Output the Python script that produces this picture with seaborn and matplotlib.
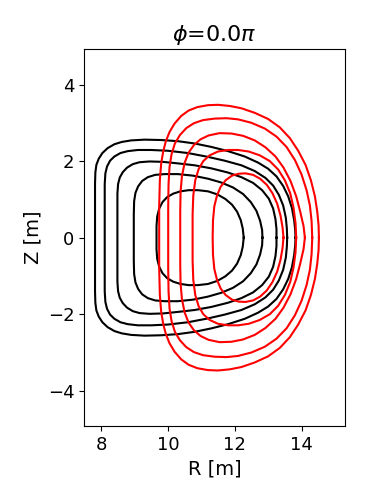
import numpy as np
import pandas as pd
import seaborn as sns
import matplotlib
matplotlib.use("Agg")
import matplotlib.pyplot as plt

# flux surfaces, (R, Z) in metres
# each loop: upper half from outboard midplane over the top, then lower half back

# black surfaces, outer -> inner
B1_R_top = [13.82, 13.81, 13.78, 13.71, 13.60, 13.45, 13.25, 13.00, 12.70, 12.30, 11.80, 11.30, 10.80, 10.30, 9.80, 9.30, 8.90, 8.62, 8.40, 8.20, 8.04, 7.93, 7.86, 7.83, 7.82, 7.82, 7.82]
B1_Z_top = [0.00, 0.20, 0.45, 0.78, 1.08, 1.35, 1.60, 1.80, 1.96, 2.12, 2.26, 2.37, 2.46, 2.52, 2.55, 2.56, 2.54, 2.50, 2.44, 2.34, 2.21, 2.06, 1.90, 1.70, 1.40, 0.80, 0.00]
B1_R_bot = [7.82, 7.82, 7.83, 7.86, 7.93, 8.04, 8.20, 8.40, 8.62, 8.90, 9.30, 9.80, 10.30, 10.80, 11.30, 11.80, 12.30, 12.70, 13.00, 13.25, 13.45, 13.60, 13.71, 13.78, 13.81, 13.82]
B1_Z_bot = [-0.80, -1.40, -1.70, -1.90, -2.06, -2.21, -2.34, -2.44, -2.50, -2.54, -2.56, -2.55, -2.52, -2.46, -2.37, -2.26, -2.12, -1.96, -1.80, -1.60, -1.35, -1.08, -0.78, -0.45, -0.20, 0.00]

B2_R_top = [13.57, 13.56, 13.53, 13.45, 13.32, 13.15, 12.92, 12.60, 12.20, 11.70, 11.20, 10.60, 10.00, 9.50, 9.10, 8.80, 8.58, 8.40, 8.27, 8.18, 8.13, 8.11, 8.11, 8.11]
B2_Z_top = [0.00, 0.24, 0.52, 0.84, 1.12, 1.36, 1.56, 1.74, 1.89, 2.01, 2.11, 2.21, 2.27, 2.29, 2.29, 2.26, 2.21, 2.12, 2.01, 1.86, 1.68, 1.40, 0.80, 0.00]
B2_R_bot = [8.11, 8.11, 8.13, 8.18, 8.27, 8.40, 8.58, 8.80, 9.10, 9.50, 10.00, 10.60, 11.20, 11.70, 12.20, 12.60, 12.92, 13.15, 13.32, 13.45, 13.53, 13.56, 13.57]
B2_Z_bot = [-0.80, -1.40, -1.68, -1.86, -2.01, -2.12, -2.21, -2.26, -2.29, -2.29, -2.27, -2.21, -2.11, -2.01, -1.89, -1.74, -1.56, -1.36, -1.12, -0.84, -0.52, -0.24, 0.00]

B3_R_top = [13.25, 13.25, 13.22, 13.15, 13.02, 12.82, 12.55, 12.20, 11.80, 11.30, 10.80, 10.30, 9.85, 9.45, 9.15, 8.95, 8.78, 8.65, 8.56, 8.51, 8.49, 8.49, 8.49]
B3_Z_top = [0.00, 0.22, 0.48, 0.76, 1.02, 1.24, 1.43, 1.58, 1.70, 1.81, 1.89, 1.94, 1.98, 1.99, 1.97, 1.92, 1.83, 1.71, 1.57, 1.40, 1.15, 0.70, 0.00]
B3_R_bot = [8.49, 8.49, 8.51, 8.56, 8.65, 8.78, 8.95, 9.15, 9.45, 9.85, 10.30, 10.80, 11.30, 11.80, 12.20, 12.55, 12.82, 13.02, 13.15, 13.22, 13.25, 13.25]
B3_Z_bot = [-0.70, -1.15, -1.40, -1.57, -1.71, -1.83, -1.92, -1.97, -1.99, -1.98, -1.94, -1.89, -1.81, -1.70, -1.58, -1.43, -1.24, -1.02, -0.76, -0.48, -0.22, 0.00]

B4_R_top = [12.83, 12.82, 12.76, 12.65, 12.48, 12.25, 11.95, 11.60, 11.20, 10.75, 10.30, 9.90, 9.62, 9.40, 9.23, 9.11, 9.03, 8.99, 8.98, 8.98]
B4_Z_top = [0.00, 0.20, 0.44, 0.70, 0.93, 1.14, 1.31, 1.44, 1.54, 1.62, 1.66, 1.66, 1.64, 1.58, 1.48, 1.34, 1.17, 0.95, 0.60, 0.00]
B4_R_bot = [8.98, 8.99, 9.03, 9.11, 9.23, 9.40, 9.62, 9.90, 10.30, 10.75, 11.20, 11.60, 11.95, 12.25, 12.48, 12.65, 12.76, 12.82, 12.83]
B4_Z_bot = [-0.60, -0.95, -1.17, -1.34, -1.48, -1.58, -1.64, -1.66, -1.66, -1.62, -1.54, -1.44, -1.31, -1.14, -0.93, -0.70, -0.44, -0.20, 0.00]

B5_R_top = [12.27, 12.24, 12.18, 12.07, 11.92, 11.72, 11.48, 11.20, 10.90, 10.62, 10.38, 10.16, 9.98, 9.84, 9.74, 9.68, 9.66, 9.66]
B5_Z_top = [0.00, 0.24, 0.46, 0.68, 0.86, 1.01, 1.13, 1.21, 1.24, 1.24, 1.21, 1.15, 1.06, 0.93, 0.76, 0.55, 0.30, 0.00]
B5_R_bot = [9.66, 9.68, 9.74, 9.84, 9.98, 10.16, 10.38, 10.62, 10.90, 11.20, 11.48, 11.72, 11.92, 12.07, 12.18, 12.24, 12.27]
B5_Z_bot = [-0.30, -0.55, -0.76, -0.93, -1.06, -1.15, -1.21, -1.24, -1.24, -1.21, -1.13, -1.01, -0.86, -0.68, -0.46, -0.24, 0.00]

# red surfaces, outer -> inner
R1_R_top = [14.52, 14.51, 14.47, 14.40, 14.28, 14.12, 13.90, 13.65, 13.35, 13.00, 12.60, 12.20, 11.85, 11.50, 11.20, 10.88, 10.62, 10.40, 10.20, 10.05, 9.94, 9.86, 9.80, 9.76, 9.74, 9.74]
R1_Z_top = [0.00, 0.32, 0.68, 1.08, 1.50, 1.90, 2.27, 2.60, 2.88, 3.10, 3.26, 3.38, 3.44, 3.47, 3.46, 3.41, 3.32, 3.18, 2.98, 2.76, 2.52, 2.25, 1.94, 1.50, 0.80, 0.00]
R1_R_bot = [9.74, 9.76, 9.80, 9.86, 9.94, 10.05, 10.20, 10.40, 10.62, 10.88, 11.20, 11.50, 11.85, 12.20, 12.60, 13.00, 13.35, 13.65, 13.90, 14.12, 14.28, 14.40, 14.47, 14.51, 14.52]
R1_Z_bot = [-0.80, -1.50, -1.94, -2.25, -2.52, -2.76, -2.98, -3.18, -3.32, -3.41, -3.46, -3.47, -3.44, -3.38, -3.26, -3.10, -2.88, -2.60, -2.27, -1.90, -1.50, -1.08, -0.68, -0.32, 0.00]

R2_R_top = [14.32, 14.30, 14.25, 14.15, 14.00, 13.80, 13.55, 13.25, 12.90, 12.50, 12.10, 11.76, 11.40, 11.05, 10.78, 10.55, 10.36, 10.21, 10.11, 10.05, 10.02, 10.01, 10.01]
R2_Z_top = [0.00, 0.44, 0.84, 1.24, 1.65, 2.03, 2.37, 2.64, 2.85, 3.00, 3.09, 3.12, 3.11, 3.07, 2.99, 2.86, 2.68, 2.46, 2.18, 1.85, 1.40, 0.80, 0.00]
R2_R_bot = [10.01, 10.02, 10.05, 10.11, 10.21, 10.36, 10.55, 10.78, 11.05, 11.40, 11.76, 12.10, 12.50, 12.90, 13.25, 13.55, 13.80, 14.00, 14.15, 14.25, 14.30, 14.32]
R2_Z_bot = [-0.80, -1.40, -1.85, -2.18, -2.46, -2.68, -2.86, -2.99, -3.07, -3.11, -3.12, -3.09, -3.00, -2.85, -2.64, -2.37, -2.03, -1.65, -1.24, -0.84, -0.44, 0.00]

R3_R_top = [14.10, 14.06, 13.96, 13.84, 13.67, 13.46, 13.22, 12.92, 12.60, 12.25, 11.90, 11.55, 11.22, 10.98, 10.78, 10.62, 10.50, 10.42, 10.38, 10.37, 10.37]
R3_Z_top = [0.00, 0.30, 0.68, 1.08, 1.48, 1.83, 2.12, 2.36, 2.54, 2.66, 2.72, 2.73, 2.67, 2.57, 2.42, 2.22, 1.95, 1.60, 1.20, 0.70, 0.00]
R3_R_bot = [10.37, 10.38, 10.42, 10.50, 10.62, 10.78, 10.98, 11.22, 11.55, 11.90, 12.25, 12.60, 12.92, 13.22, 13.46, 13.67, 13.84, 13.96, 14.06, 14.10]
R3_Z_bot = [-0.70, -1.20, -1.60, -1.95, -2.22, -2.42, -2.57, -2.67, -2.73, -2.72, -2.66, -2.54, -2.36, -2.12, -1.83, -1.48, -1.08, -0.68, -0.30, 0.00]

R4_R_top = [13.84, 13.82, 13.76, 13.66, 13.50, 13.30, 13.05, 12.75, 12.42, 12.10, 11.80, 11.50, 11.25, 11.06, 10.92, 10.82, 10.76, 10.74, 10.74]
R4_Z_top = [0.00, 0.38, 0.78, 1.16, 1.50, 1.78, 2.00, 2.15, 2.25, 2.29, 2.29, 2.25, 2.15, 2.00, 1.79, 1.50, 1.10, 0.60, 0.00]
R4_R_bot = [10.74, 10.76, 10.82, 10.92, 11.06, 11.25, 11.50, 11.80, 12.10, 12.42, 12.75, 13.05, 13.30, 13.50, 13.66, 13.76, 13.82, 13.84]
R4_Z_bot = [-0.60, -1.10, -1.50, -1.79, -2.00, -2.15, -2.25, -2.29, -2.29, -2.25, -2.15, -2.00, -1.78, -1.50, -1.16, -0.78, -0.38, 0.00]

R5_R_top = [13.46, 13.43, 13.37, 13.27, 13.13, 12.96, 12.76, 12.55, 12.32, 12.12, 11.92, 11.73, 11.58, 11.47, 11.39, 11.35, 11.34]
R5_Z_top = [0.00, 0.28, 0.58, 0.89, 1.16, 1.38, 1.54, 1.64, 1.68, 1.67, 1.62, 1.50, 1.33, 1.10, 0.82, 0.45, 0.00]
R5_R_bot = [11.35, 11.39, 11.47, 11.58, 11.73, 11.92, 12.12, 12.32, 12.55, 12.76, 12.96, 13.13, 13.27, 13.37, 13.43, 13.46]
R5_Z_bot = [-0.45, -0.82, -1.10, -1.33, -1.50, -1.62, -1.67, -1.68, -1.64, -1.54, -1.38, -1.16, -0.89, -0.58, -0.28, 0.00]

surfaces = {
    "black": [(B1_R_top + B1_R_bot, B1_Z_top + B1_Z_bot),
              (B2_R_top + B2_R_bot, B2_Z_top + B2_Z_bot),
              (B3_R_top + B3_R_bot, B3_Z_top + B3_Z_bot),
              (B4_R_top + B4_R_bot, B4_Z_top + B4_Z_bot),
              (B5_R_top + B5_R_bot, B5_Z_top + B5_Z_bot)],
    "red": [(R1_R_top + R1_R_bot, R1_Z_top + R1_Z_bot),
            (R2_R_top + R2_R_bot, R2_Z_top + R2_Z_bot),
            (R3_R_top + R3_R_bot, R3_Z_top + R3_Z_bot),
            (R4_R_top + R4_R_bot, R4_Z_top + R4_Z_bot),
            (R5_R_top + R5_R_bot, R5_Z_top + R5_Z_bot)],
}

frames = []
for name, loops in surfaces.items():
    for k, (rr, zz) in enumerate(loops):
        if len(rr) != len(zz):
            raise ValueError(f"{name}{k}: {len(rr)} R vs {len(zz)} Z")
        frames.append(pd.DataFrame({"set": name, "surf": f"{name}{k}", "R": rr, "Z": zz}))
df = pd.concat(frames, ignore_index=True)

fig = plt.figure(figsize=(3.66, 5.0), dpi=100)
ax = fig.add_axes([0.2295, 0.148, 0.714, 0.7534])

sns.lineplot(data=df, x="R", y="Z", hue="set", units="surf", estimator=None, sort=False,
             palette={"black": "black", "red": "red"}, linewidth=1.5, legend=False, ax=ax)

ax.set_xlim(7.49, 15.31)
ax.set_ylim(-4.92, 4.92)
ax.set_xticks([8, 10, 12, 14])
ax.set_yticks([-4, -2, 0, 2, 4])
ax.tick_params(labelsize=13)
ax.set_xlabel("R [m]", fontsize=14)
ax.set_ylabel("Z [m]", fontsize=14)
ax.set_title(r"$\phi$=0.0$\pi$", fontsize=16)

fig.savefig("out.png", dpi=100)
